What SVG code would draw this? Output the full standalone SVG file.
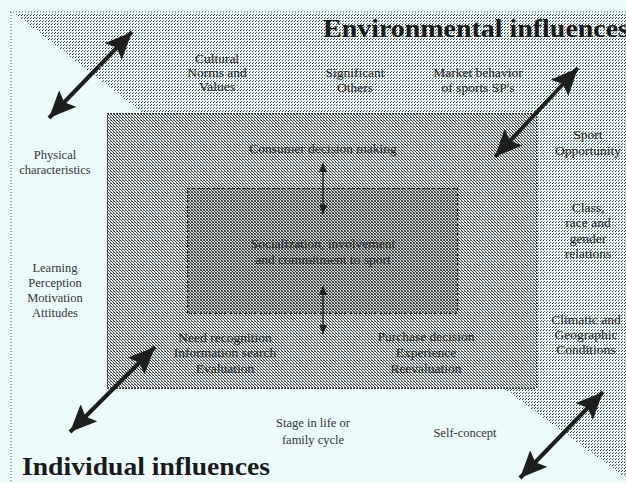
<svg xmlns="http://www.w3.org/2000/svg" width="626" height="483" viewBox="0 0 626 483">
<style>
.t{font-family:"Liberation Serif","Times New Roman",serif;font-size:13.5px;fill:#222;text-anchor:middle}
.s{font-size:12.5px;fill:#333}
.h{font-family:"Liberation Serif","Times New Roman",serif;font-size:26px;font-weight:bold;fill:#1a1a1a}
.big{stroke:#1e1e1e;stroke-width:4;fill:none}
.sm{stroke:#1e1e1e;stroke-width:1.4;fill:none}
</style>
<defs>
<pattern id="pEnv" width="3" height="3" patternUnits="userSpaceOnUse">
<rect width="3" height="3" fill="#eefcfc"/>
<rect width="1" height="1" fill="#333"/>
<rect x="1" y="2" width="1" height="1" fill="#666"/>
</pattern>
<pattern id="pMid" width="3" height="3" patternUnits="userSpaceOnUse">
<rect width="3" height="3" fill="#e8f4f4"/>
<rect width="1" height="1" fill="#333"/>
<rect x="1" y="1" width="1" height="1" fill="#444"/>
<rect x="2" y="2" width="1" height="1" fill="#444"/>
<rect x="2" y="0" width="1" height="1" fill="#888"/>
</pattern>
<pattern id="pIn" width="3" height="3" patternUnits="userSpaceOnUse">
<rect width="3" height="3" fill="#d4dede"/>
<rect width="1" height="1" fill="#333"/>
<rect x="1" y="1" width="1" height="1" fill="#333"/>
<rect x="2" y="2" width="1" height="1" fill="#333"/>
<rect x="2" y="0" width="1" height="1" fill="#555"/>
<rect x="0" y="2" width="1" height="1" fill="#777"/>
</pattern>
<marker id="mBig" viewBox="0 0 27 24" refX="27" refY="12" markerWidth="27" markerHeight="24" markerUnits="userSpaceOnUse" orient="auto-start-reverse">
<path d="M0,0 L27,12 L0,24 L5,12 Z" fill="#1e1e1e"/>
</marker>
<marker id="mSm" viewBox="0 0 9 8" refX="9" refY="4" markerWidth="9" markerHeight="8" markerUnits="userSpaceOnUse" orient="auto-start-reverse">
<path d="M0,0 L9,4 L0,8 Z" fill="#1e1e1e"/>
</marker>
</defs>
<rect width="626" height="483" fill="#eefcfc"/>
<g id="environment">
<polygon points="14,13 626,13 626,478 503,388 536,388 536,113 143,113" fill="url(#pEnv)" shape-rendering="crispEdges"/>
</g>
<g id="frame" fill="none" stroke="#555" stroke-width="1" stroke-dasharray="1,2">
<line x1="11" y1="12" x2="11" y2="483"/>
<line x1="10" y1="12" x2="626" y2="12"/>
</g>
<g id="decision">
<rect x="107" y="113" width="429" height="275" fill="url(#pMid)" stroke="#333" stroke-width="1" stroke-dasharray="2,1" shape-rendering="crispEdges"/>
</g>
<g id="socialization">
<rect x="187" y="188" width="270" height="125" fill="url(#pIn)" stroke="#222" stroke-width="1" stroke-dasharray="3,2" shape-rendering="crispEdges"/>
</g>
<g id="connectors">
<line class="big" x1="49" y1="118" x2="132" y2="32" marker-start="url(#mBig)" marker-end="url(#mBig)"/>
<line class="big" x1="495" y1="157" x2="578" y2="68" marker-start="url(#mBig)" marker-end="url(#mBig)"/>
<line class="big" x1="70" y1="432" x2="155" y2="347" marker-start="url(#mBig)" marker-end="url(#mBig)"/>
<line class="big" x1="520" y1="478" x2="603" y2="392" marker-start="url(#mBig)" marker-end="url(#mBig)"/>
<line class="sm" x1="323" y1="163" x2="323" y2="214" marker-start="url(#mSm)" marker-end="url(#mSm)"/>
<line class="sm" x1="323" y1="286" x2="323" y2="334" marker-start="url(#mSm)" marker-end="url(#mSm)"/>
</g>
<g id="titles">
<text class="h" x="323" y="37" textLength="306" lengthAdjust="spacingAndGlyphs">Environmental influences</text>
<text class="h" x="22" y="475" textLength="248" lengthAdjust="spacingAndGlyphs">Individual influences</text>
</g>
<g id="cultural"><text class="t" x="217" y="63">Cultural</text><text class="t" x="217" y="77">Norms and</text><text class="t" x="217" y="91">Values</text></g>
<g id="others"><text class="t" x="355" y="77">Significant</text><text class="t" x="355" y="92">Others</text></g>
<g id="market"><text class="t" x="478" y="77">Market behavior</text><text class="t" x="478" y="92">of sports SP's</text></g>
<g id="sport"><text class="t" x="588" y="139">Sport</text><text class="t" x="588" y="155">Opportunity</text></g>
<g id="class"><text class="t" x="588" y="212">Class,</text><text class="t" x="588" y="227">race and</text><text class="t" x="588" y="243">gender</text><text class="t" x="588" y="258">relations</text></g>
<g id="climatic"><text class="t" x="586" y="324">Climatic and</text><text class="t" x="586" y="339">Geographic</text><text class="t" x="586" y="354">Conditions</text></g>
<g id="physical"><text class="t s" x="55" y="159">Physical</text><text class="t s" x="55" y="174">characteristics</text></g>
<g id="learning"><text class="t s" x="55" y="272">Learning</text><text class="t s" x="55" y="287">Perception</text><text class="t s" x="55" y="302">Motivation</text><text class="t s" x="55" y="317">Attitudes</text></g>
<g id="consumer"><text class="t" x="323" y="153">Consumer decision making</text></g>
<g id="social"><text class="t" x="323" y="248">Socialization, involvement</text><text class="t" x="323" y="264">and commitment to sport</text></g>
<g id="need"><text class="t" x="225" y="342">Need recognition</text><text class="t" x="225" y="357">Information search</text><text class="t" x="225" y="373">Evaluation</text></g>
<g id="purchase"><text class="t" x="426" y="341">Purchase decision</text><text class="t" x="426" y="357">Experience</text><text class="t" x="426" y="373">Reevaluation</text></g>
<g id="stage"><text class="t s" x="313" y="427">Stage in life or</text><text class="t s" x="313" y="444">family cycle</text></g>
<g id="self"><text class="t s" x="465" y="437">Self-concept</text></g>
</svg>
